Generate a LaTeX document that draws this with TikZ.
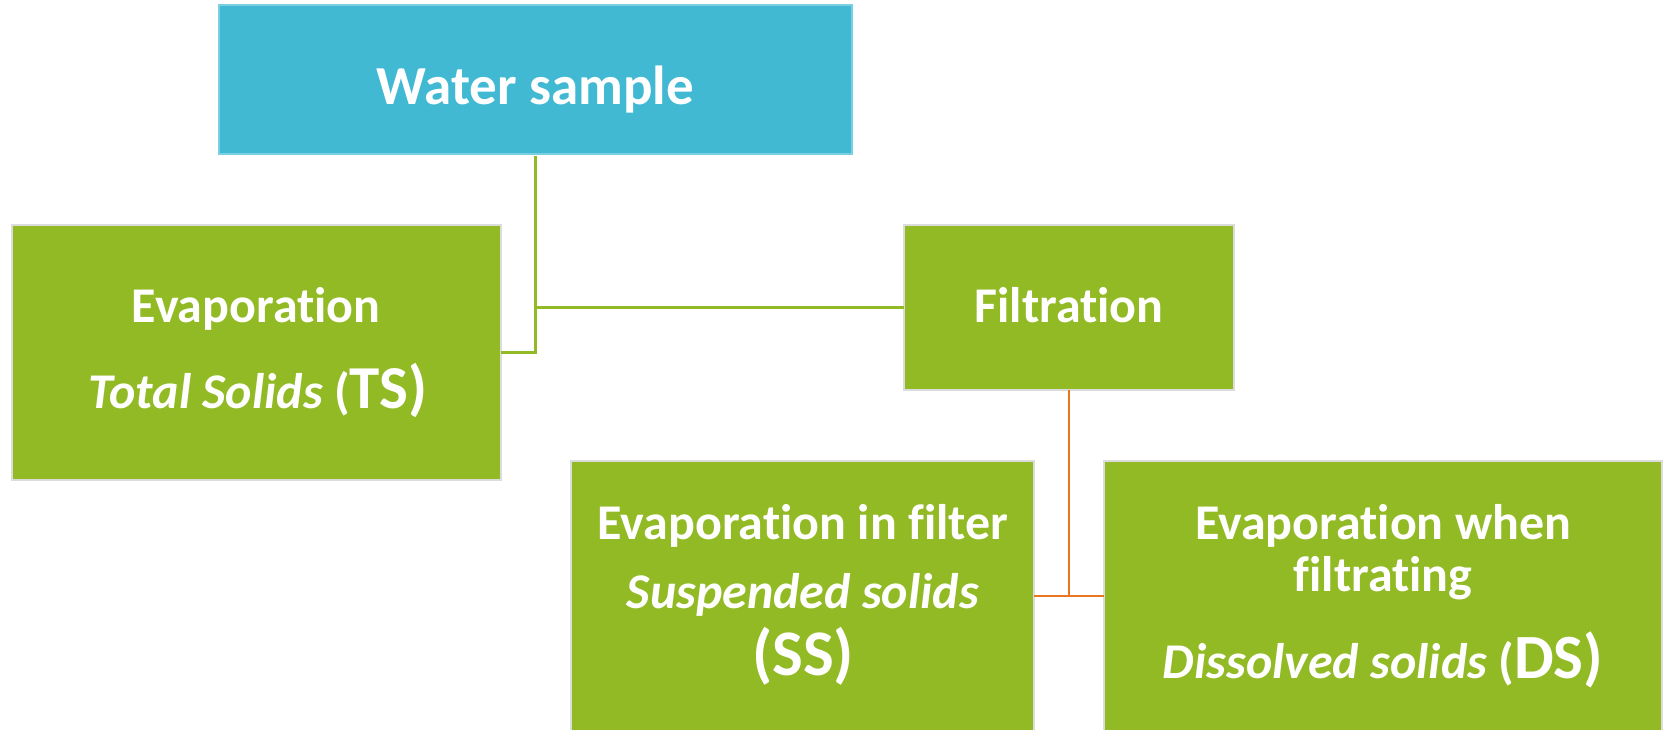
\documentclass[tikz,border=0pt]{standalone}
\usepackage{fontspec}
\setmainfont{Carlito}[RawFeature={-liga;-clig;-calt;-dlig}]
\definecolor{boxgreen}{HTML}{92BA24}
\definecolor{boxblue}{HTML}{42B9D3}
\definecolor{edgeblue}{HTML}{7ACFE3}
\definecolor{lineorange}{HTML}{E8761E}
\definecolor{edgegray}{HTML}{DCDCDC}
\begin{document}
\begin{tikzpicture}[x=1pt,y=-1pt,
  greenbox/.style={draw=edgegray, line width=2pt, fill=boxgreen, inner sep=0pt, outer sep=0pt},
  bluebox/.style={draw=edgeblue, line width=1.5pt, fill=boxblue, inner sep=0pt, outer sep=0pt},
  txt/.style={text=white, anchor=base, inner sep=0pt, font=\fontsize{50}{56}\selectfont\bfseries},
  gline/.style={draw=boxgreen, line width=2.2pt},
  oline/.style={draw=lineorange, line width=2.2pt},
]
\useasboundingbox (0,0) rectangle (1664,729);
% boxes
\node[bluebox, minimum width=633pt, minimum height=149pt] (water) at (535.5,79.6) {};
\node[greenbox, minimum width=489pt, minimum height=255pt] (evap) at (256.2,352.5) {};
\node[greenbox, minimum width=330pt, minimum height=165pt] (filt) at (1069,307.5) {};
\node[greenbox, minimum width=463pt, minimum height=271pt] (ss) at (802.5,596) {};
\node[greenbox, minimum width=558pt, minimum height=271pt] (ds) at (1383,596) {};
% connectors
\draw[gline, shorten <=2pt] (water.south) |- (evap.east);
\draw[gline] (water.south |- filt.west) -- (filt.west);
\draw[oline] (filt.south) |- (ss.east);
\draw[oline] (filt.south |- ds.west) -- (ds.west);
% texts
\node[txt, font=\fontsize{55}{60}\selectfont\bfseries] (waterT) at (535.5,104) {Water sample};
\node[txt] (evapA) at (256.2,322.7) {Evaporation};
\node[txt] (evapB) at (258,408.3) {{\itshape Total Solids }({\fontsize{61}{64}\selectfont TS)}};
\node[txt] (filtT) at (1069,322.3) {Filtration};
\node[txt] (ssA) at (803,539.3) {Evaporation in filter};
\node[txt] (ssB) at (803,608) {\itshape Suspended solids};
\node[txt, font=\fontsize{65}{70}\selectfont\bfseries] (ssC) at (803,675) {(SS)};
\node[txt] (dsA) at (1383,539) {Evaporation when};
\node[txt] (dsB) at (1383,591.7) {filtrating};
\node[txt] (dsC) at (1383,678) {{\itshape Dissolved solids }({\fontsize{63}{66}\selectfont DS)}};
\end{tikzpicture}
\end{document}
